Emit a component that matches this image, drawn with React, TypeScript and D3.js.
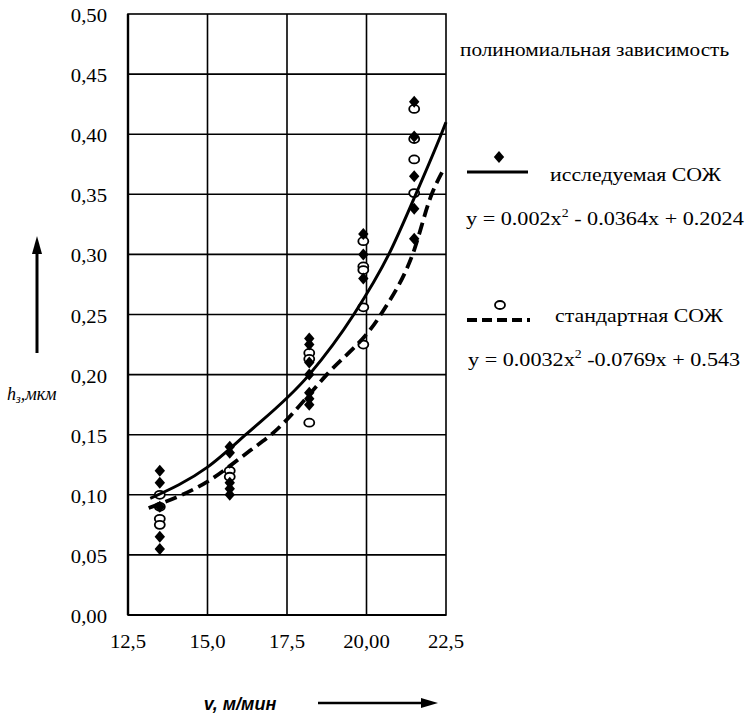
import React from "react";
import * as d3 from "d3";

// cutting speed groups (v, м/мин)
const speeds = [13.5, 15.7, 18.2, 19.9, 21.5];

// исследуемая СОЖ, measured h per speed
const testedPoints = [
  [0.12, 0.11, 0.09, 0.065, 0.055],
  [0.14, 0.135, 0.11, 0.105, 0.1],
  [0.23, 0.225, 0.21, 0.2, 0.185, 0.18, 0.175],
  [0.317, 0.3, 0.28],
  [0.427, 0.398, 0.365, 0.338, 0.313],
];

// стандартная СОЖ, measured h per speed
const standardPoints = [
  [0.1, 0.09, 0.08, 0.075],
  [0.12, 0.115],
  [0.218, 0.213, 0.16],
  [0.311, 0.29, 0.287, 0.256, 0.225],
  [0.421, 0.396, 0.379, 0.351],
];

// trend lines
const testedTrendV = [13.2, 15.0, 16.2, 18.2, 19.6, 20.7, 21.55, 22.35, 22.5];
const testedTrendH = [0.097, 0.123, 0.15, 0.2, 0.25, 0.3, 0.35, 0.4, 0.41];
const standardTrendV = [13.15, 15.0, 16.35, 17.0, 18.75, 20.45, 21.45, 22.05, 22.45];
const standardTrendH = [0.089, 0.111, 0.137, 0.15, 0.2, 0.25, 0.3, 0.35, 0.372];

const yTicks = [0, 0.05, 0.1, 0.15, 0.2, 0.25, 0.3, 0.35, 0.4, 0.45, 0.5];
const xTicks = [12.5, 15, 17.5, 20, 22.5];
const xTickLabels = ["12,5", "15,0", "17,5", "20,00", "22,5"];

const serif = "Liberation Serif, Times New Roman, serif";
const stretch = 1.15;

const diamond = "M0,-6L5.2,0L0,6L-5.2,0Z";

const Txt = ({ x, y, size, anchor = "start", children }: any) => (
  <text
    transform={`translate(${x},${y}) scale(${stretch},1)`}
    fontFamily={serif}
    fontSize={size}
    textAnchor={anchor}
    fill="#000"
  >
    {children}
  </text>
);

export default function App() {
  const x = d3.scaleLinear().domain([12.5, 22.5]).range([128, 446]);
  const y = d3.scaleLinear().domain([0, 0.5]).range([615, 14]);

  const line = d3
    .line<[number, number]>()
    .x((d) => x(d[0]))
    .y((d) => y(d[1]))
    .curve(d3.curveMonotoneX);

  const testedTrend = testedTrendV.map((v, i) => [v, testedTrendH[i]] as [number, number]);
  const standardTrend = standardTrendV.map((v, i) => [v, standardTrendH[i]] as [number, number]);

  return (
    <svg
      width={750}
      height={718}
      viewBox="0 0 750 718"
      style={{ position: "absolute", left: 0, top: 0, background: "#fff" }}
    >
      <rect width={750} height={718} fill="#fff" />

      {/* grid */}
      {yTicks.slice(1, -1).map((t) => (
        <line key={"gy" + t} x1={x(12.5)} x2={x(22.5)} y1={y(t)} y2={y(t)} stroke="#000" strokeWidth={1.6} />
      ))}
      {xTicks.slice(1, -1).map((t) => (
        <line key={"gx" + t} x1={x(t)} x2={x(t)} y1={y(0)} y2={y(0.5)} stroke="#000" strokeWidth={1.6} />
      ))}
      <rect
        x={x(12.5)}
        y={y(0.5)}
        width={x(22.5) - x(12.5)}
        height={y(0) - y(0.5)}
        fill="none"
        stroke="#000"
        strokeWidth={1.6}
      />
      <line x1={x(12.5)} x2={x(12.5)} y1={y(0)} y2={y(0.5)} stroke="#000" strokeWidth={2.4} />
      <line x1={x(12.5)} x2={x(22.5)} y1={y(0)} y2={y(0)} stroke="#000" strokeWidth={2.2} />

      {/* tick labels */}
      {yTicks.map((t) => (
        <Txt key={"ly" + t} x={107} y={y(t) + 8} size={18} anchor="end">
          {d3.format(".2f")(t).replace(".", ",")}
        </Txt>
      ))}
      {xTicks.map((t, i) => (
        <Txt key={"lx" + t} x={x(t)} y={648} size={18} anchor="middle">
          {xTickLabels[i]}
        </Txt>
      ))}

      {/* markers */}
      {speeds.map((v, i) =>
        standardPoints[i].map((h, j) => (
          <ellipse
            key={`s${i}-${j}`}
            cx={x(v)}
            cy={y(h)}
            rx={5}
            ry={4}
            fill="#fff"
            stroke="#000"
            strokeWidth={1.8}
          />
        ))
      )}
      {speeds.map((v, i) =>
        testedPoints[i].map((h, j) => (
          <path key={`t${i}-${j}`} d={diamond} transform={`translate(${x(v)},${y(h)})`} fill="#000" />
        ))
      )}

      {/* trend lines */}
      <path d={line(testedTrend) || ""} fill="none" stroke="#000" strokeWidth={3} />
      <path
        d={line(standardTrend) || ""}
        fill="none"
        stroke="#000"
        strokeWidth={3.8}
        strokeDasharray="12,6"
      />

      {/* legend */}
      <Txt x={460} y={56} size={18.5}>полиномиальная зависимость</Txt>
      <line x1={467} x2={528} y1={172} y2={172} stroke="#000" strokeWidth={3} />
      <path d={diamond} transform="translate(499,157)" fill="#000" />
      <Txt x={550} y={181} size={19}>исследуемая СОЖ</Txt>
      <Txt x={466} y={225} size={19.3}>
        y = 0.002x<tspan fontSize={12} dy={-8}>2</tspan>
        <tspan dy={8}> - 0.0364x + 0.2024</tspan>
      </Txt>

      <line x1={467} x2={530} y1={320} y2={320} stroke="#000" strokeWidth={4} strokeDasharray="10,5" />
      <ellipse cx={500} cy={305} rx={5} ry={4} fill="#fff" stroke="#000" strokeWidth={1.8} />
      <Txt x={555} y={322} size={19}>стандартная СОЖ</Txt>
      <Txt x={468} y={366} size={19.3}>
        y = 0.0032x<tspan fontSize={12} dy={-8}>2</tspan>
        <tspan dy={8}> -0.0769x + 0.543</tspan>
      </Txt>

      {/* axis titles and arrows */}
      <line x1={37} x2={37} y1={353} y2={250} stroke="#000" strokeWidth={3} />
      <path d="M37,236L32,254L42,254Z" fill="#000" />
      <text x={7} y={400} fontFamily={serif} fontSize={18} fontStyle="italic">
        h<tspan fontSize={12} dy={3}>з</tspan>
        <tspan dy={-3}>,мкм</tspan>
      </text>

      <text
        x={240}
        y={710}
        fontFamily="Liberation Sans, Arial, sans-serif"
        fontSize={18}
        fontStyle="italic"
        fontWeight="bold"
        textAnchor="middle"
      >
        v, м/мин
      </text>
      <line x1={318} x2={424} y1={703} y2={703} stroke="#000" strokeWidth={2.5} />
      <path d="M438,703L421,698L421,708Z" fill="#000" />
    </svg>
  );
}
